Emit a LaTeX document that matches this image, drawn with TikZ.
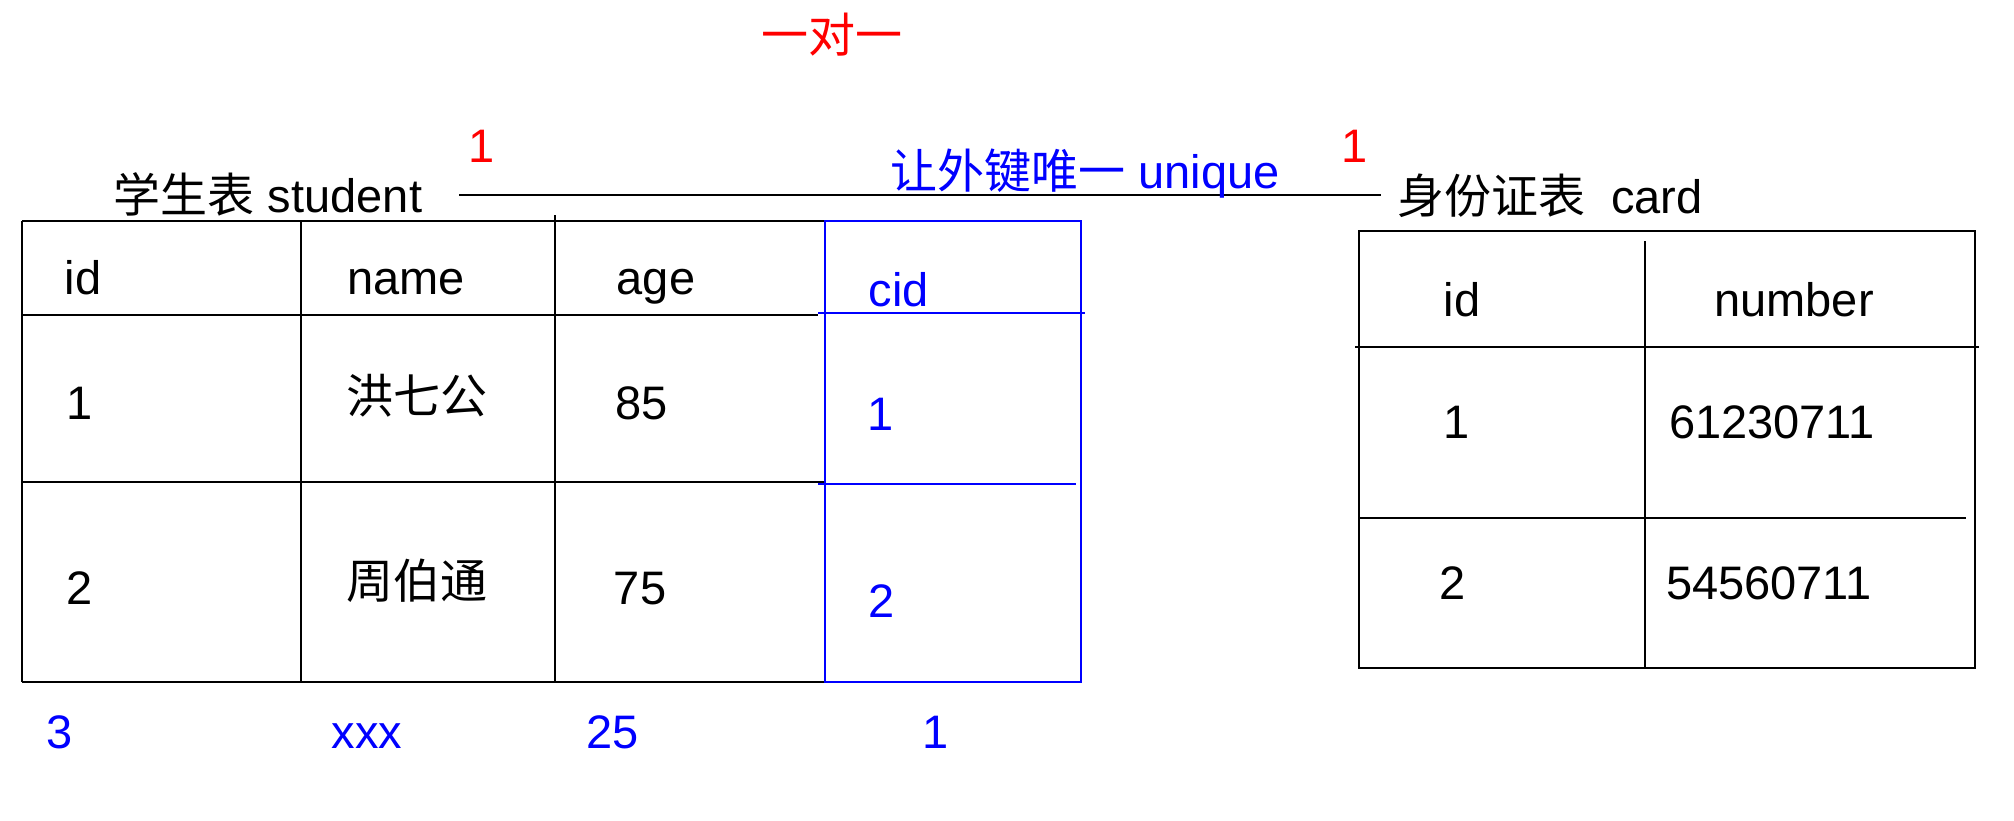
\documentclass[tikz,border=0pt]{standalone}
\usepackage{fontspec}
\setmainfont{Liberation Sans}
\newfontfamily\cjk{Noto Sans CJK SC}
\begin{document}
\begin{tikzpicture}[x=0.5pt, y=-0.5pt,
    txt/.style={font=\fontsize{23.5}{28}\selectfont, inner sep=0pt, anchor=base},
    fk/.style={txt, text=blue},
    card1/.style={txt, text=red},
    grid/.style={line width=1pt},
    fkgrid/.style={blue, line width=0.65pt},
    fkrule/.style={blue, line width=1.3pt}]

    \useasboundingbox (0,0) rectangle (2014,820);

    % 标题
    \node[card1] (title) at (832,52) {\cjk 一对一};

    % 两张表的名字和连线
    \node[txt] (stulbl) at (268,212) {{\cjk 学生表} student};
    \node[txt] (cardlbl) at (1550,213) {{\cjk 身份证表}\ \ card};
    \coordinate (relA) at (459,195);
    \draw[grid] (relA) -- ([xshift=-8]cardlbl.west |- relA);
    \node[card1] (oneA) at (482,162) {1};
    \node[card1] (oneB) at (1355,162) {1};
    \node[fk] (uniq) at (1085,188) {{\cjk 让外键唯一} unique};

    % 学生表 student
    \draw[grid] (22,221) -- (825,221);
    \draw[grid] (22,315) -- (818,315);
    \draw[grid] (22,482) -- (825,482);
    \draw[grid] (22,682) -- (825,682);
    \draw[grid] (22,221) -- (22,682);
    \draw[grid] (301,221) -- (301,682);
    \draw[grid] (555,215) -- (555,682);

    % cid 列 (外键)
    \draw[fkgrid] (825,221) rectangle (1081,682);
    \draw[fkrule] (818,313) -- (1085,313);
    \draw[fkrule] (818,484) -- (1076,484);

    % 表头
    \node[txt] (sid) at (83,294) {id};
    \node[txt] (sname) at (406,294) {name};
    \node[txt] (sage) at (656,294) {age};
    \node[fk] (scid) at (899,306) {cid};

    % 第一行
    \node[txt] (s1id) at (80,419) {1};
    \node[txt] (s1name) at (417,413) {\cjk 洪七公};
    \node[txt] (s1age) at (642,419) {85};
    \node[fk] (s1cid) at (881,430) {1};

    % 第二行
    \node[txt] (s2id) at (80,604) {2};
    \node[txt] (s2name) at (417,598) {\cjk 周伯通};
    \node[txt] (s2age) at (640,604) {75};
    \node[fk] (s2cid) at (882,617) {2};

    % 表外的一行
    \node[fk] (s3id) at (60,748) {3};
    \node[fk] (s3name) at (367,748) {xxx};
    \node[fk] (s3age) at (613,748) {25};
    \node[fk] (s3cid) at (936,748) {1};

    % 身份证表 card
    \draw[grid] (1359,231) rectangle (1975,668);
    \draw[grid] (1355,347) -- (1979,347);
    \draw[grid] (1359,518) -- (1966,518);
    \draw[grid] (1645,241) -- (1645,668);

    \node[txt] (cid) at (1462,316) {id};
    \node[txt] (cnum) at (1794,316) {number};
    \node[txt] (c1id) at (1457,438) {1};
    \node[txt] (c1num) at (1772,438) {61230711};
    \node[txt] (c2id) at (1453,599) {2};
    \node[txt] (c2num) at (1769,599) {54560711};

\end{tikzpicture}
\end{document}
